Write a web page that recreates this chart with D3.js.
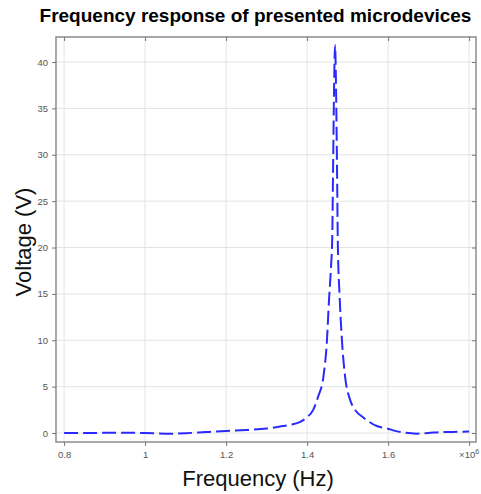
<!DOCTYPE html>
<html><head><meta charset="utf-8">
<script src="https://cdn.jsdelivr.net/npm/d3@7"></script>
<style>body{margin:0;background:#fff}</style>
</head><body>
<svg id="c" width="481" height="494"></svg>
<script>
const freqMHz = [0.80,0.85,0.90,0.95,1.00,1.05,1.10,1.15,1.20,1.25,1.30,1.333,1.36,1.383,1.40,1.415,1.427,1.44,1.449,1.454,1.459,1.462,1.464,1.4665,1.469,1.4715,1.474,1.476,1.480,1.486,1.494,1.506,1.52,1.538,1.572,1.597,1.62,1.65,1.672,1.70,1.73,1.76,1.80];
const voltage = [0.0,0.0,0.02,0.03,0.0,-0.08,-0.02,0.1,0.22,0.32,0.48,0.7,0.9,1.2,1.7,2.5,3.9,6.0,10,14.3,17.9,21,28,37,41.8,37,28,20,15,10,6.0,3.6,2.4,1.7,0.75,0.5,0.2,0.0,-0.07,0.0,0.1,0.12,0.15];
const xTicks = [0.8,1,1.2,1.4,1.6,1.8];
const xTickLabels = ["0.8","1","1.2","1.4","1.6",""];
const yTicks = [0,5,10,15,20,25,30,35,40];
const title = "Frequency response of presented microdevices";
const xLabel = "Frequency (Hz)";
const yLabel = "Voltage (V)";

const svg = d3.select("#c");
const L=56, R=476, T=37, B=442;
const x = d3.scaleLinear().domain([0.78,1.817]).range([L,R]);
const y = d3.scaleLinear().domain([-0.97,42.7]).range([B,T]);
const FF = "'Liberation Sans',Arial,sans-serif";

// grid
svg.append("g").selectAll("line").data(xTicks).join("line")
  .attr("x1",d=>x(d)).attr("x2",d=>x(d)).attr("y1",T).attr("y2",B)
  .attr("stroke","#e4e4e4").attr("stroke-width",1);
svg.append("g").selectAll("line").data(yTicks).join("line")
  .attr("x1",L).attr("x2",R).attr("y1",d=>y(d)).attr("y2",d=>y(d))
  .attr("stroke","#e4e4e4").attr("stroke-width",1);

// frame
svg.append("rect").attr("x",L).attr("y",T).attr("width",R-L).attr("height",B-T)
  .attr("fill","none").attr("stroke","#8c8c8c").attr("stroke-width",1.5);

// axes
const ax = svg.append("g").attr("transform",`translate(0,${B})`)
  .call(d3.axisBottom(x).tickValues(xTicks).tickFormat((d,i)=>xTickLabels[i]).tickSize(4).tickPadding(5));
const ay = svg.append("g").attr("transform",`translate(${L},0)`)
  .call(d3.axisLeft(y).tickValues(yTicks).tickSize(4).tickPadding(4));
const at = svg.append("g").attr("transform",`translate(0,${T})`)
  .call(d3.axisBottom(x).tickValues(xTicks).tickFormat("").tickSize(4));
const ar = svg.append("g").attr("transform",`translate(${R},0)`)
  .call(d3.axisLeft(y).tickValues(yTicks).tickFormat("").tickSize(4));
[ax,ay,at,ar].forEach(g=>{
  g.select(".domain").remove();
  g.selectAll(".tick line").attr("stroke","#777");
  g.selectAll("text").attr("fill","#555").style("font-family",FF).style("font-size","9.5px");
});

// x10^6 label
const ex = svg.append("text").attr("x",x(1.8)).attr("y",B+16).attr("text-anchor","middle")
  .attr("fill","#555").style("font-family",FF).style("font-size","9.5px");
ex.append("tspan").text("×10");
ex.append("tspan").attr("dy",-4).style("font-size","7px").text("6");

// line
const line = d3.line().x((d,i)=>x(freqMHz[i])).y(d=>y(d)).curve(d3.curveMonotoneX);
svg.append("path").datum(voltage).attr("d",line).attr("fill","none")
  .attr("stroke","#2a2aff").attr("stroke-width",2).attr("stroke-dasharray","14,5");

// titles
svg.append("text").attr("x",255.5).attr("y",22).attr("text-anchor","middle")
  .style("font-family",FF).style("font-size","19px").style("font-weight","bold").text(title);
svg.append("text").attr("x",258).attr("y",486).attr("text-anchor","middle")
  .style("font-family",FF).style("font-size","22px").attr("fill","#111").text(xLabel);
svg.append("text").attr("transform","translate(31,242) rotate(-90)").attr("text-anchor","middle")
  .style("font-family",FF).style("font-size","22px").attr("fill","#111").text(yLabel);
</script>
</body></html>
